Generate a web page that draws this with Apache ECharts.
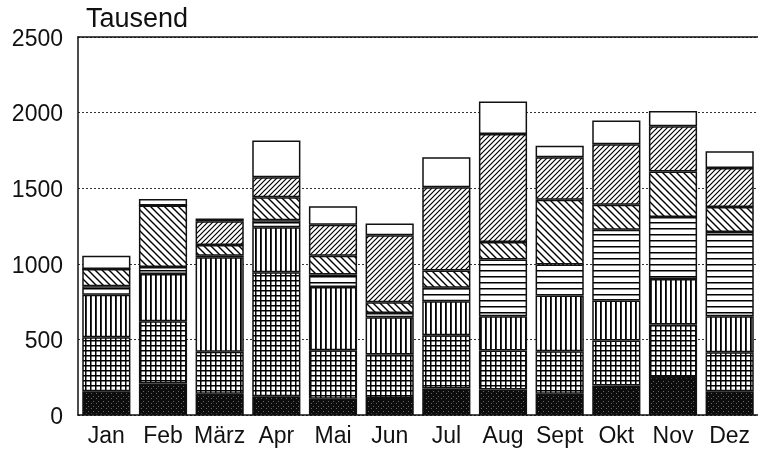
<!DOCTYPE html>
<html>
<head>
<meta charset="utf-8">
<script src="https://cdn.jsdelivr.net/npm/echarts@6/dist/echarts.min.js"></script>
<style>
html,body{margin:0;padding:0;background:#fff;}
#chart{width:758px;height:458px;}
</style>
</head>
<body>
<div id="chart"></div>
<script>
const months = ['Jan','Feb','März','Apr','Mai','Jun','Jul','Aug','Sept','Okt','Nov','Dez'];
const yTicks = [0, 500, 1000, 1500, 2000, 2500];
const blackVals = [157,208,140,124,107,113,175,169,140,195,252,157];
const gridVals = [357,412,278,820,321,287,353,257,282,297,346,258];
const verticalVals = [282,313,626,297,419,247,224,227,368,265,302,238];
const horizontalVals = [55,46,10,47,82,28,89,375,205,469,410,558];
const backslashVals = [115,406,71,152,125,71,114,117,429,165,300,165];
const forwardVals = [0,0,156,132,205,443,551,713,280,399,300,258];
const whiteVals = [88,44,18,244,121,77,198,216,77,157,100,110];

function tile(size, draw){
  const c = document.createElement('canvas');
  c.width = size; c.height = size;
  const g = c.getContext('2d');
  g.fillStyle = '#fff'; g.fillRect(0,0,size,size);
  g.fillStyle = '#000'; g.strokeStyle = '#000';
  draw(g, size);
  return {image: c, repeat: 'repeat'};
}
const patBlack = tile(5, (g,s)=>{ g.fillStyle='#0d0d0d'; g.fillRect(0,0,s,s); g.fillStyle='#666'; g.fillRect(1,3,1,1); g.fillRect(3,1,1,1); });
const patGrid = tile(5, (g,s)=>{ g.fillRect(0,0,s,1.5); g.fillRect(0,0,1.5,s); });
const patVert = tile(5, (g,s)=>{ g.fillRect(0,0,1.8,s); });
const patHoriz = tile(6, (g,s)=>{ g.fillRect(0,0,s,1.5); });
function diag(size, forward, lw){
  return tile(size, (g,s)=>{
    g.lineWidth = lw;
    g.beginPath();
    if(forward){
      g.moveTo(0,s); g.lineTo(s,0);
      g.moveTo(-1,1); g.lineTo(1,-1);
      g.moveTo(s-1,s+1); g.lineTo(s+1,s-1);
    } else {
      g.moveTo(0,0); g.lineTo(s,s);
      g.moveTo(-1,s-1); g.lineTo(1,s+1);
      g.moveTo(s-1,-1); g.lineTo(s+1,1);
    }
    g.stroke();
  });
}
const patBack = diag(7, false, 1.4);
const patFwd = diag(5, true, 1.2);

const layers = [
  ['schwarz', blackVals, patBlack],
  ['kariert', gridVals, patGrid],
  ['senkrecht', verticalVals, patVert],
  ['waagerecht', horizontalVals, patHoriz],
  ['schraeg1', backslashVals, patBack],
  ['schraeg2', forwardVals, patFwd],
  ['weiss', whiteVals, '#ffffff']
];

const chart = echarts.init(document.getElementById('chart'), null, {renderer:'canvas'});
chart.setOption({
  animation: false,
  backgroundColor: '#fff',
  title: {
    text: 'Tausend', left: 81, top: 1,
    textStyle: {fontFamily: 'Liberation Sans', fontSize: 27, fontWeight: 'normal', color: '#111'}
  },
  grid: {left: 78, right: 0, top: 37, bottom: 43},
  xAxis: [{
    type: 'category', data: months,
    axisLine: {lineStyle: {color: '#111', width: 1.5}},
    axisTick: {show: false},
    axisLabel: {fontFamily: 'Liberation Sans', fontSize: 23, color: '#111', margin: 10, interval: 0}
  },{
    type: 'category', data: months, position: 'top',
    axisLine: {show: true, lineStyle: {color: '#111', width: 1.5}},
    axisTick: {show: false}, axisLabel: {show: false}
  }],
  yAxis: {
    type: 'value', min: yTicks[0], max: yTicks[yTicks.length-1], interval: 500,
    axisLine: {show: true, lineStyle: {color: '#111', width: 1.5}},
    axisTick: {show: false},
    axisLabel: {fontFamily: 'Liberation Sans', fontSize: 23, color: '#111', margin: 15,
      formatter: v => String(v), verticalAlign: 'top', padding: [-9, 0, 0, 0]},
    splitLine: {show: true, lineStyle: {type: [2, 2], color: '#333', width: 1}}
  },
  series: layers.map(([name, vals, pat]) => ({
    name, type: 'bar', stack: 'total', data: vals,
    barCategoryGap: '15%',
    itemStyle: {color: pat, borderColor: '#111', borderWidth: 1.5}
  }))
});
</script>
</body>
</html>
